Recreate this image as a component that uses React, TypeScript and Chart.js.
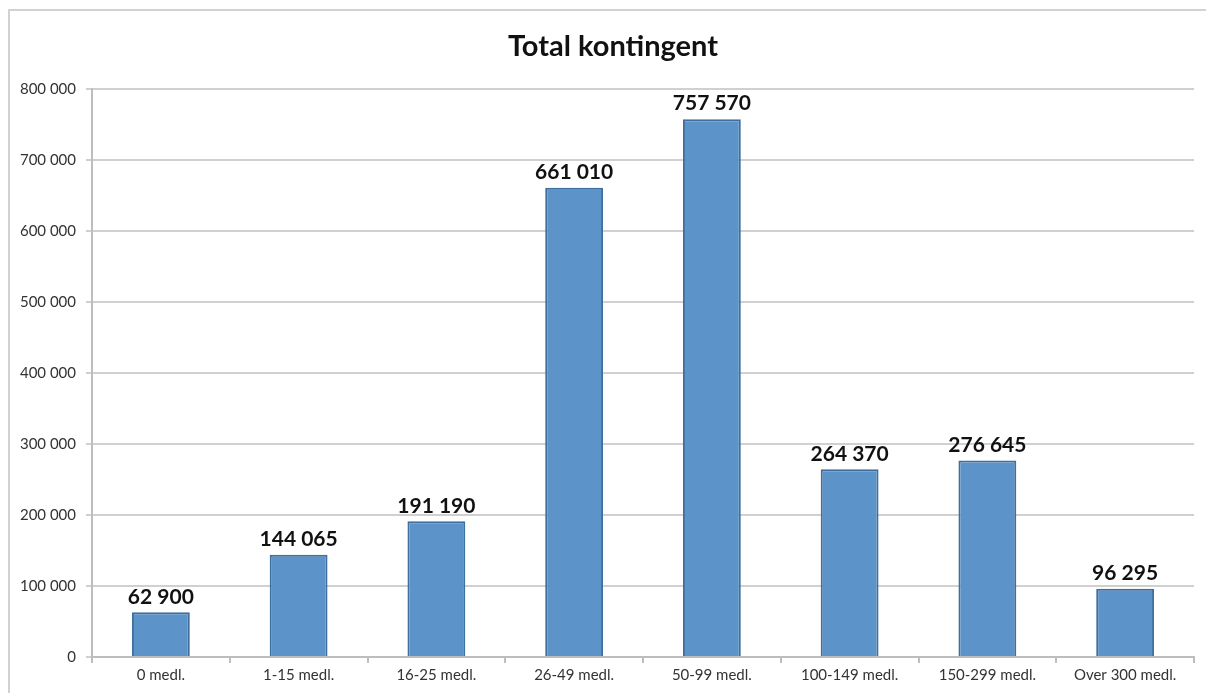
import React, { useEffect, useRef } from "react";
import { Chart, registerables } from "chart.js";

Chart.register(...registerables);

const categories = ["0 medl.", "1-15 medl.", "16-25 medl.", "26-49 medl.", "50-99 medl.", "100-149 medl.", "150-299 medl.", "Over 300 medl."];
const values = [62900, 144065, 191190, 661010, 757570, 264370, 276645, 96295];
const titleText = "Total kontingent";
const yMax = 800000;
const yStep = 100000;

const fmt = (v: number) => String(Math.round(v)).replace(/\B(?=(\d{3})+(?!\d))/g, " ");

const FONT = "Lato, 'Open Sans', sans-serif";

const borderPlugin = {
  id: "outerBorder",
  beforeDraw(chart: any) {
    const ctx = chart.ctx;
    ctx.save();
    ctx.fillStyle = "#ffffff";
    ctx.fillRect(0, 0, chart.width, chart.height);
    ctx.strokeStyle = "#d2d2d2";
    ctx.lineWidth = 2;
    ctx.beginPath();
    ctx.moveTo(9, chart.height);
    ctx.lineTo(9, 10);
    ctx.lineTo(chart.width, 10);
    ctx.stroke();
    ctx.font = `bold 29px ${FONT}`;
    ctx.fillStyle = "#111111";
    ctx.textAlign = "center";
    ctx.textBaseline = "middle";
    ctx.fillText(titleText, 613, 47);
    ctx.restore();
  },
};

const labelPlugin = {
  id: "barLabels",
  afterDatasetsDraw(chart: any) {
    const ctx = chart.ctx;
    const meta = chart.getDatasetMeta(0);
    ctx.save();
    ctx.font = `bold 21px ${FONT}`;
    ctx.fillStyle = "#111111";
    ctx.textAlign = "center";
    ctx.textBaseline = "bottom";
    meta.data.forEach((bar: any, i: number) => {
      ctx.fillText(fmt(values[i]), bar.x, bar.y - 5);
    });
    ctx.restore();
  },
};

export default function App() {
  const ref = useRef<HTMLCanvasElement>(null);
  useEffect(() => {
    if (!ref.current) return;
    const chart = new Chart(ref.current, {
      type: "bar",
      data: {
        labels: categories,
        datasets: [
          {
            data: values,
            backgroundColor: "#5c94ca",
            borderColor: "#3f6f9e",
            borderWidth: 2,
            barPercentage: 0.42,
            categoryPercentage: 1,
          },
        ],
      },
      options: {
        animation: false,
        responsive: false,
        maintainAspectRatio: false,
        layout: { padding: { left: 0, right: 12, top: 89, bottom: 0 } },
        plugins: {
          legend: { display: false },
          tooltip: { enabled: false },
          title: { display: false },
        },
        scales: {
          x: {
            grid: {
              offset: true,
              drawOnChartArea: false,
              drawTicks: true,
              tickLength: 6,
              color: "#bdbdbd",
              lineWidth: 2,
            },
            border: { color: "#bdbdbd", width: 2 },
            ticks: {
              color: "#333333",
              font: { family: FONT, size: 15 },
              padding: 3,
              maxRotation: 0,
              autoSkip: false,
            },
            afterFit(scale: any) {
              scale.height = 36;
            },
          },
          y: {
            min: 0,
            max: yMax,
            grid: {
              color: "#d0d0d0",
              lineWidth: 2,
              drawTicks: true,
              tickLength: 6,
            },
            border: { color: "#bdbdbd", width: 2 },
            ticks: {
              stepSize: yStep,
              color: "#333333",
              font: { family: FONT, size: 15 },
              padding: 10,
              callback: (v: any) => fmt(Number(v)),
            },
            afterFit(scale: any) {
              scale.width = 92;
            },
          },
        },
      },
      plugins: [borderPlugin, labelPlugin],
    });
    return () => chart.destroy();
  }, []);
  return (
    <div style={{ position: "fixed", left: 0, top: 0, width: 1206, height: 693 }}>
      <canvas ref={ref} width={1206} height={693} style={{ width: 1206, height: 693 }} />
    </div>
  );
}
